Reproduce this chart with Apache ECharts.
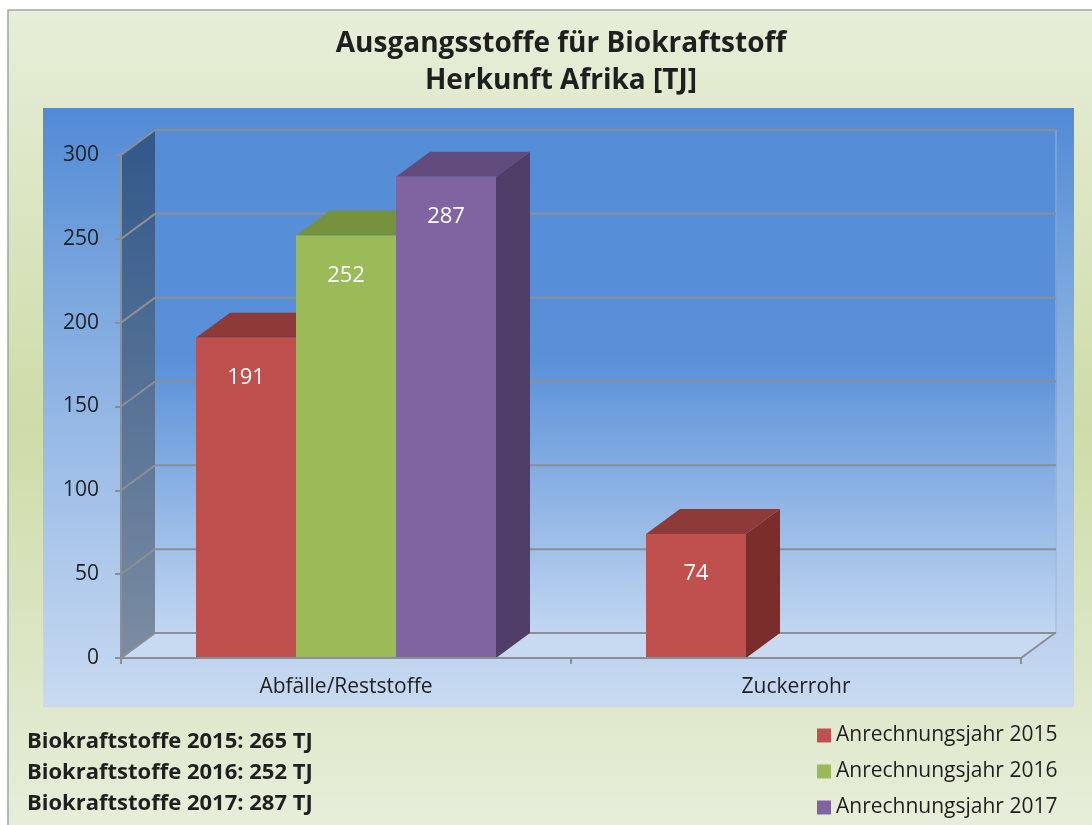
<!DOCTYPE html>
<html>
<head>
    <meta charset="utf-8">
    <title>Ausgangsstoffe für Biokraftstoff - Herkunft Afrika</title>
    <script src="https://cdn.jsdelivr.net/npm/echarts@6/dist/echarts.min.js"></script>
    <style>
        html, body { margin: 0; padding: 0; background: #fff; }
    </style>
</head>
<body>
    <div id="myEcharts" style="width: 1092px;height:825px;"></div>
    <script type="text/javascript">
        // Daten
        var categories = ['Abfälle/Reststoffe', 'Zuckerrohr'];
        var years = ['Anrechnungsjahr 2015', 'Anrechnungsjahr 2016', 'Anrechnungsjahr 2017'];
        var values2015 = [191, 74];
        var values2016 = [252, null];
        var values2017 = [287, null];
        var yTicks = [0, 50, 100, 150, 200, 250, 300];
        var notes = ['Biokraftstoffe 2015: 265 TJ', 'Biokraftstoffe 2016: 252 TJ', 'Biokraftstoffe 2017: 287 TJ'];

        var FONT = 'Open Sans';
        var DX = 34, DY = -25; // Tiefe der 3D-Darstellung
        var GRID = {left: 121, top: 155, width: 900, height: 503};
        var colors = [
            {front: '#c0504d', top: '#8d3a38', side: '#7a2d2b'},
            {front: '#9bbb59', top: '#76923d', side: '#62792f'},
            {front: '#8064a2', top: '#614b7c', side: '#503e68'}
        ];

        var myChart = echarts.init(document.getElementById('myEcharts'));

        // Wände, Boden und Gitterlinien
        function renderFrame(params, api) {
            var cs = params.coordSys;
            var v = api.value(1);
            var yv = api.coord([0, v])[1];
            var x0 = cs.x, x1 = cs.x + cs.width, yb = cs.y + cs.height;
            var children = [];
            if (params.dataIndex === 0) {
                children.push({
                    type: 'rect',
                    shape: {x: x0 + DX, y: cs.y + DY, width: cs.width + 2, height: cs.height},
                    style: {fill: new echarts.graphic.LinearGradient(0, 0, 0, 1, [
                        {offset: 0, color: '#548cd6'},
                        {offset: 0.45, color: '#5990d8'},
                        {offset: 1, color: '#c1d6f0'}
                    ])}
                });
                children.push({
                    type: 'polygon',
                    shape: {points: [[x0, yb], [x0, cs.y], [x0 + DX, cs.y + DY], [x0 + DX, yb + DY]]},
                    style: {fill: new echarts.graphic.LinearGradient(0, 0, 0, 1, [
                        {offset: 0, color: '#30588a'},
                        {offset: 1, color: '#7c8ca2'}
                    ])}
                });
                children.push({
                    type: 'polygon',
                    shape: {points: [[x0, yb], [x1, yb], [x1 + DX, yb + DY], [x0 + DX, yb + DY]]},
                    style: {fill: '#c8daf1'}
                });
                children.push({
                    type: 'line',
                    shape: {x1: x1, y1: yb, x2: x1 + DX, y2: yb + DY},
                    style: {stroke: '#8a8e95', lineWidth: 2}
                });
                children.push({
                    type: 'line',
                    shape: {x1: x1 + DX + 1, y1: cs.y + DY, x2: x1 + DX + 1, y2: yb + DY},
                    style: {stroke: '#9fb6d4', lineWidth: 1}
                });
            }
            children.push({
                type: 'line',
                shape: {x1: x0, y1: yv, x2: x0 + DX, y2: yv + DY},
                style: {stroke: '#8a8e95', lineWidth: 2}
            });
            children.push({
                type: 'line',
                shape: {x1: x0 + DX, y1: yv + DY, x2: x1 + DX + 1, y2: yv + DY},
                style: {stroke: '#8a8e95', lineWidth: 2}
            });
            return {type: 'group', children: children};
        }

        // 3D-Säule
        function makeBarRenderer(k) {
            return function (params, api) {
                var ci = api.value(0), v = api.value(1);
                var base = api.coord([ci, 0]);
                var top = api.coord([ci, v]);
                var band = api.size([1, 0])[0];
                var bw = band * (2 / 3) / 3;
                var x = base[0] - 1.5 * bw + k * bw;
                var c = colors[k];
                return {
                    type: 'group',
                    children: [
                        {
                            type: 'polygon',
                            shape: {points: [[x + bw, top[1]], [x + bw + DX, top[1] + DY], [x + bw + DX, base[1] + DY], [x + bw, base[1]]]},
                            style: {fill: c.side}
                        },
                        {
                            type: 'polygon',
                            shape: {points: [[x, top[1]], [x + bw, top[1]], [x + bw + DX, top[1] + DY], [x + DX, top[1] + DY]]},
                            style: {fill: c.top}
                        },
                        {
                            type: 'rect',
                            shape: {x: x, y: top[1], width: bw, height: base[1] - top[1]},
                            style: {fill: c.front}
                        },
                        {
                            type: 'text',
                            x: x + bw / 2,
                            y: top[1] + 40,
                            style: {
                                text: String(v), fill: '#fff', font: '22px ' + FONT,
                                align: 'center', verticalAlign: 'middle'
                            }
                        }
                    ]
                };
            };
        }

        function toData(vals) {
            var out = [];
            vals.forEach(function (v, i) {
                if (v !== null) out.push([i, v]);
            });
            return out;
        }

        var seriesVals = [values2015, values2016, values2017];
        var series = [{
            type: 'custom',
            name: 'frame',
            renderItem: renderFrame,
            data: yTicks.map(function (t) { return [0, t]; }),
            z: 1,
            silent: true
        }];
        seriesVals.forEach(function (vals, k) {
            series.push({
                type: 'custom',
                name: years[k],
                renderItem: makeBarRenderer(k),
                itemStyle: {color: colors[k].front},
                data: toData(vals),
                z: 2
            });
        });

        var option = {
            animation: false,
            textStyle: {fontFamily: FONT},
            graphic: [
                {
                    type: 'rect', z: -10, silent: true,
                    shape: {x: 8, y: 10, width: 1100, height: 830},
                    style: {
                        fill: new echarts.graphic.LinearGradient(0, 0, 0, 1, [
                            {offset: 0, color: '#e7eed9'},
                            {offset: 0.5, color: '#cddca8'},
                            {offset: 1, color: '#e8eedc'}
                        ]),
                        stroke: '#a5a5a5', lineWidth: 1.5
                    }
                },
                {
                    type: 'rect', z: -9, silent: true,
                    shape: {x: 43, y: 108, width: 1031, height: 599},
                    style: {
                        fill: new echarts.graphic.LinearGradient(0, 0, 0, 1, [
                            {offset: 0, color: '#518ad5'},
                            {offset: 0.3, color: '#7aa6de'},
                            {offset: 0.55, color: '#98bae6'},
                            {offset: 1, color: '#c8daf1'}
                        ])
                    }
                }
            ],
            title: [
                {
                    text: 'Ausgangsstoffe für Biokraftstoff\nHerkunft Afrika [TJ]',
                    left: 556, top: 21, textAlign: 'center',
                    textStyle: {fontFamily: FONT, fontSize: 28, fontWeight: 'bold', color: '#1f1f1f', lineHeight: 37}
                },
                {
                    text: notes.join('\n'),
                    left: 22, top: 721,
                    textStyle: {fontFamily: FONT, fontSize: 22, fontWeight: 'bold', color: '#1f1f1f', lineHeight: 31}
                }
            ],
            legend: {
                orient: 'vertical',
                left: 817, top: 725,
                padding: 0,
                itemWidth: 14, itemHeight: 14, itemGap: 15,
                icon: 'rect',
                data: years,
                textStyle: {fontFamily: FONT, fontSize: 21, color: '#1f1f1f', lineHeight: 20}
            },
            grid: {left: GRID.left, top: GRID.top, width: GRID.width, height: GRID.height, containLabel: false},
            xAxis: {
                type: 'category',
                data: categories,
                z: 3,
                axisLine: {lineStyle: {color: '#8a8e95', width: 2}},
                axisTick: {show: true, length: 6, lineStyle: {color: '#8a8e95', width: 2}},
                axisLabel: {fontFamily: FONT, fontSize: 21, color: '#1f1f1f', margin: 19}
            },
            yAxis: {
                type: 'value',
                min: 0, max: 300, interval: 50,
                z: 3,
                axisLine: {show: true, lineStyle: {color: '#8a8e95', width: 2}},
                axisTick: {show: true, length: 6, lineStyle: {color: '#8a8e95', width: 2}},
                axisLabel: {fontFamily: FONT, fontSize: 21, color: '#1f1f1f', margin: 22},
                splitLine: {show: false}
            },
            series: series
        };
        myChart.setOption(option);
    </script>
</body>
</html>
